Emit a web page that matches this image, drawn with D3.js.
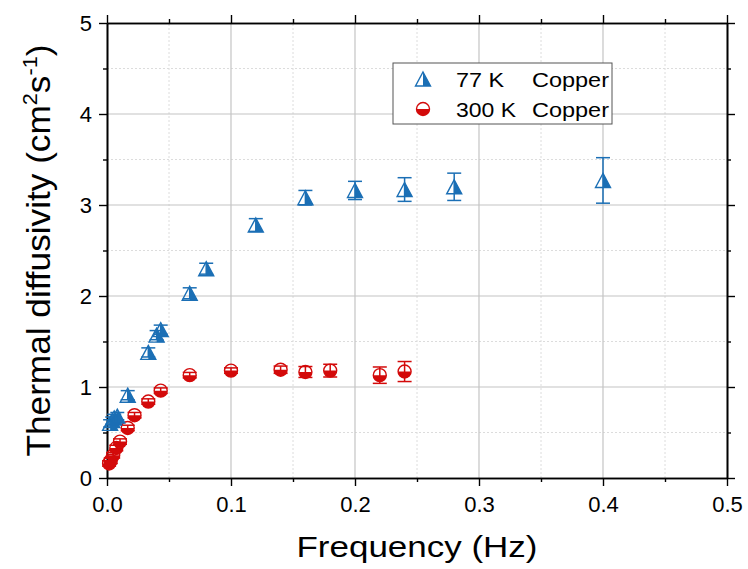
<!DOCTYPE html>
<html>
<head>
<meta charset="utf-8">
<script src="https://cdn.jsdelivr.net/npm/d3@7"></script>
<style>
  html, body { margin: 0; padding: 0; background: #fff; }
  svg { display: block; font-family: "Liberation Sans", Arial, sans-serif; }
</style>
</head>
<body>
<svg id="chart" width="748" height="569"></svg>
<script>
// Thermal diffusivity of copper vs. modulation frequency
const freq77  = [0.0025, 0.0042, 0.0058, 0.0083, 0.0167, 0.0333, 0.0400, 0.0433, 0.0667, 0.0800, 0.1200, 0.1600, 0.2000, 0.2400, 0.2800, 0.4000];
const diff77  = [0.60, 0.63, 0.66, 0.68, 0.91, 1.38, 1.57, 1.63, 2.03, 2.30, 2.78, 3.08, 3.16, 3.17, 3.20, 3.27];
const err77   = [0.04, 0.04, 0.04, 0.04, 0.05, 0.05, 0.05, 0.05, 0.06, 0.06, 0.07, 0.08, 0.10, 0.13, 0.15, 0.25];

const freq300 = [0.0017, 0.0030, 0.0050, 0.0075, 0.0105, 0.0167, 0.0222, 0.0333, 0.0433, 0.0667, 0.1000, 0.1400, 0.1600, 0.1800, 0.2200, 0.2400];
const diff300 = [0.16, 0.19, 0.25, 0.33, 0.40, 0.55, 0.69, 0.84, 0.96, 1.13, 1.18, 1.19, 1.165, 1.18, 1.13, 1.17];
const err300  = [0.03, 0.03, 0.03, 0.03, 0.03, 0.03, 0.03, 0.03, 0.03, 0.03, 0.03, 0.04, 0.06, 0.07, 0.09, 0.11];

const xTicks = [0, 0.1, 0.2, 0.3, 0.4, 0.5];
const xMinor = [0.05, 0.15, 0.25, 0.35, 0.45];
const yTicks = [0, 1, 2, 3, 4, 5];
const yMinor = [0.5, 1.5, 2.5, 3.5, 4.5];

const seriesNames = ["77 K", "300 K"];
const materialName = "Copper";
const xTitle = "Frequency (Hz)";

const BLUE = "#1b6fb5", RED = "#d30a0a";

const svg = d3.select("#chart");
const m = { l: 107, r: 21, t: 23, b: 91 };
const W = 748, H = 569;

const x = d3.scaleLinear().domain([0, 0.5]).range([m.l, W - m.r]);
const y = d3.scaleLinear().domain([0, 5]).range([H - m.b, m.t]);

// grid
const grid = svg.append("g");
grid.selectAll(".gxm").data(xMinor).join("line")
  .attr("x1", d => x(d)).attr("x2", d => x(d)).attr("y1", y(0)).attr("y2", y(5))
  .attr("stroke", "#dcdcdc").attr("stroke-width", 1).attr("stroke-dasharray", "2,2");
grid.selectAll(".gym").data(yMinor).join("line")
  .attr("y1", d => y(d)).attr("y2", d => y(d)).attr("x1", x(0)).attr("x2", x(0.5))
  .attr("stroke", "#dcdcdc").attr("stroke-width", 1).attr("stroke-dasharray", "2,2");
grid.selectAll(".gx").data(xTicks.slice(1, -1)).join("line")
  .attr("x1", d => x(d)).attr("x2", d => x(d)).attr("y1", y(0)).attr("y2", y(5))
  .attr("stroke", "#c4c4c4").attr("stroke-width", 1.2);
grid.selectAll(".gy").data(yTicks.slice(1, -1)).join("line")
  .attr("y1", d => y(d)).attr("y2", d => y(d)).attr("x1", x(0)).attr("x2", x(0.5))
  .attr("stroke", "#c4c4c4").attr("stroke-width", 1.2);

// axes
function styleAxis(g) {
  g.select(".domain").attr("stroke", "#000").attr("stroke-width", 1.6);
  g.selectAll(".tick line").attr("stroke", "#000").attr("stroke-width", 1.4);
  g.selectAll(".tick text").attr("fill", "#000").attr("font-size", 22)
    .attr("font-family", "Liberation Sans, Arial, sans-serif");
}
const axBottom = svg.append("g").attr("transform", `translate(0,${y(0)})`)
  .call(d3.axisBottom(x).tickValues(xTicks).tickFormat(d3.format(".1f")).tickSize(8).tickSizeOuter(0).tickPadding(10));
styleAxis(axBottom);
svg.append("g").attr("transform", `translate(0,${y(0)})`)
  .call(d3.axisBottom(x).tickValues(xMinor).tickFormat("").tickSize(4).tickSizeOuter(0)).call(styleAxis);

const axTop = svg.append("g").attr("transform", `translate(0,${y(5)})`)
  .call(d3.axisTop(x).tickValues(xTicks).tickFormat("").tickSize(8).tickSizeOuter(0));
styleAxis(axTop);
svg.append("g").attr("transform", `translate(0,${y(5)})`)
  .call(d3.axisTop(x).tickValues(xMinor).tickFormat("").tickSize(4).tickSizeOuter(0)).call(styleAxis);

const axLeft = svg.append("g").attr("transform", `translate(${x(0)},0)`)
  .call(d3.axisLeft(y).tickValues(yTicks).tickFormat(d3.format("d")).tickSize(8).tickSizeOuter(0).tickPadding(7));
styleAxis(axLeft);
svg.append("g").attr("transform", `translate(${x(0)},0)`)
  .call(d3.axisLeft(y).tickValues(yMinor).tickFormat("").tickSize(4).tickSizeOuter(0)).call(styleAxis);

const axRight = svg.append("g").attr("transform", `translate(${x(0.5)},0)`)
  .call(d3.axisRight(y).tickValues(yTicks).tickFormat("").tickSize(8).tickSizeOuter(0));
styleAxis(axRight);
svg.append("g").attr("transform", `translate(${x(0.5)},0)`)
  .call(d3.axisRight(y).tickValues(yMinor).tickFormat("").tickSize(4).tickSizeOuter(0)).call(styleAxis);

// axis titles
svg.append("text")
  .attr("x", (x(0) + x(0.5)) / 2).attr("y", 557)
  .attr("text-anchor", "middle").attr("font-size", 29)
  .attr("textLength", 241).attr("lengthAdjust", "spacingAndGlyphs")
  .text(xTitle);

const yt = svg.append("text")
  .attr("transform", `translate(50,${(y(0) + y(5)) / 2}) rotate(-90)`)
  .attr("text-anchor", "middle").attr("font-size", 34)
  .attr("textLength", 412).attr("lengthAdjust", "spacingAndGlyphs");
yt.append("tspan").text("Thermal diffusivity (cm");
yt.append("tspan").attr("font-size", 21).attr("dy", -13).text("2");
yt.append("tspan").attr("dy", 13).text("s");
yt.append("tspan").attr("font-size", 21).attr("dy", -13).text("-1");
yt.append("tspan").attr("dy", 13).text(")");

// markers
const triOutline = "M0,-7L7.5,7L-7.5,7Z";
const triHalf = "M0,-7L7.5,7L0,7Z";
const R = 6.5;
const circHalf = `M${-R},0A${R},${R} 0 0,0 ${R},0Z`;

function drawTriangle(g, cx, cy) {
  const t = g.append("g").attr("transform", `translate(${cx},${cy})`);
  t.append("path").attr("d", triHalf).attr("fill", BLUE);
  t.append("path").attr("d", triOutline).attr("fill", "none").attr("stroke", BLUE).attr("stroke-width", 1.4).attr("stroke-linejoin", "miter");
}
function drawCircle(g, cx, cy) {
  const c = g.append("g").attr("transform", `translate(${cx},${cy})`);
  c.append("path").attr("d", circHalf).attr("fill", RED);
  c.append("circle").attr("r", R).attr("fill", "none").attr("stroke", RED).attr("stroke-width", 1.4);
}

function errorBars(g, xs, ys, es, color) {
  const cap = 7;
  xs.forEach((f, i) => {
    const px = x(f), y1 = y(ys[i] + es[i]), y2 = y(ys[i] - es[i]);
    g.append("line").attr("x1", px).attr("x2", px).attr("y1", y1).attr("y2", y2)
      .attr("stroke", color).attr("stroke-width", 1.5);
    [y1, y2].forEach(yy => g.append("line").attr("x1", px - cap).attr("x2", px + cap)
      .attr("y1", yy).attr("y2", yy).attr("stroke", color).attr("stroke-width", 1.5));
  });
}

const plot = svg.append("g");
errorBars(plot, freq300, diff300, err300, RED);
errorBars(plot, freq77, diff77, err77, BLUE);
freq300.forEach((f, i) => drawCircle(plot, x(f), y(diff300[i])));
freq77.forEach((f, i) => drawTriangle(plot, x(f), y(diff77[i])));

// legend
const lg = svg.append("g");
lg.append("rect").attr("x", 393).attr("y", 63).attr("width", 219).attr("height", 61)
  .attr("fill", "#fff").attr("stroke", "#555").attr("stroke-width", 1);
drawTriangle(lg, 423, 79);
drawCircle(lg, 423, 109);
[[86.7, seriesNames[0]], [116.7, seriesNames[1]]].forEach(([by, name]) => {
  lg.append("text").attr("x", 456).attr("y", by).attr("font-size", 21)
    .attr("textLength", name.length === 4 ? 48 : 60).attr("lengthAdjust", "spacingAndGlyphs").text(name);
  lg.append("text").attr("x", 532).attr("y", by).attr("font-size", 21)
    .attr("textLength", 77).attr("lengthAdjust", "spacingAndGlyphs").text(materialName);
});
</script>
</body>
</html>
